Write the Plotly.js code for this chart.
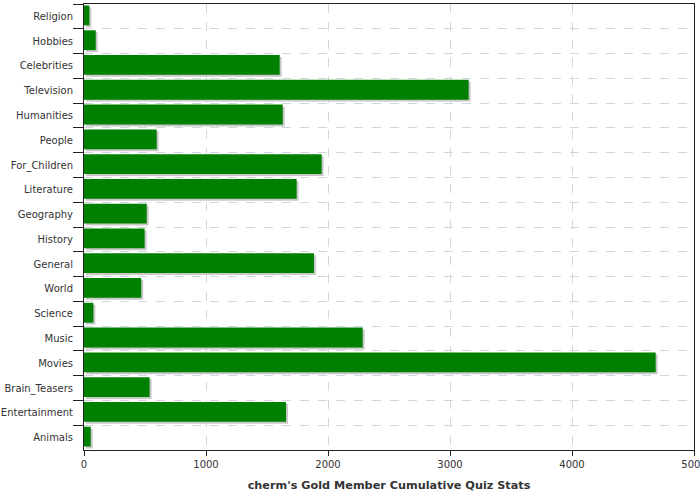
<!DOCTYPE html>
<html>
<head>
<meta charset="utf-8">
<script src="https://cdn.plot.ly/plotly-3.0.1.min.js"></script>
<style>html,body{margin:0;padding:0;background:#fff;}#chart{width:700px;height:500px;}</style>
</head>
<body>
<div id="chart"></div>
<script>
// Categories listed top-to-bottom as displayed
var categories = ["Religion", "Hobbies", "Celebrities", "Television", "Humanities", "People",
  "For_Children", "Literature", "Geography", "History", "General", "World", "Science",
  "Music", "Movies", "Brain_Teasers", "Entertainment", "Animals"];
var values = [44, 96, 1604, 3153, 1629, 596, 1948, 1743, 514, 497, 1885, 469, 77,
  2284, 4686, 538, 1656, 55];
var xTicks = [0, 1000, 2000, 3000, 4000, 5000];
var axisTitle = "cherm's Gold Member Cumulative Quiz Stats";

var shadowShift = 16; // about 2px in data units, for drop shadow

var shadow = {
  type: 'bar', orientation: 'h',
  y: categories, x: values, base: shadowShift,
  width: 0.8, offset: -0.36,
  marker: {color: '#c8c8c8', line: {width: 0}},
  hoverinfo: 'skip', showlegend: false
};
var bars = {
  type: 'bar', orientation: 'h',
  y: categories, x: values,
  width: 0.8, offset: -0.44,
  marker: {color: '#008000', line: {width: 0}},
  showlegend: false
};

var layout = {
  width: 700, height: 500,
  margin: {l: 84, r: 6, t: 4, b: 50, pad: 0},
  paper_bgcolor: '#ffffff', plot_bgcolor: '#ffffff',
  barmode: 'overlay',
  font: {family: 'DejaVu Sans', size: 10, color: '#333333'},
  xaxis: {
    range: [0, 5000], tickvals: xTicks, ticktext: xTicks.map(String),
    showgrid: true, gridcolor: '#d0d8dc', griddash: 'dash', gridwidth: 1,
    zeroline: false,
    showline: true, linecolor: '#222222', linewidth: 1, mirror: true,
    ticks: 'outside', ticklen: 5, tickcolor: '#222222',
    ticklabeloverflow: 'allow',
    tickfont: {family: 'DejaVu Sans', size: 10, color: '#333333'},
    title: {text: axisTitle, standoff: 12,
      font: {family: 'DejaVu Sans', size: 11.25, color: '#333333', weight: 'bold'}}
  },
  yaxis: {
    type: 'category', autorange: 'reversed',
    tickson: 'boundaries',
    showgrid: true, gridcolor: '#d0d8dc', griddash: 'dash', gridwidth: 1,
    zeroline: false,
    showline: true, linecolor: '#222222', linewidth: 1, mirror: true,
    ticks: 'outside', ticklen: 10, tickcolor: '#222222',
    tickfont: {family: 'DejaVu Sans', size: 10, color: '#333333'},
    ticklabelstandoff: 8
  }
};

Plotly.newPlot('chart', [shadow, bars], layout, {displayModeBar: false, staticPlot: true});
</script>
</body>
</html>
